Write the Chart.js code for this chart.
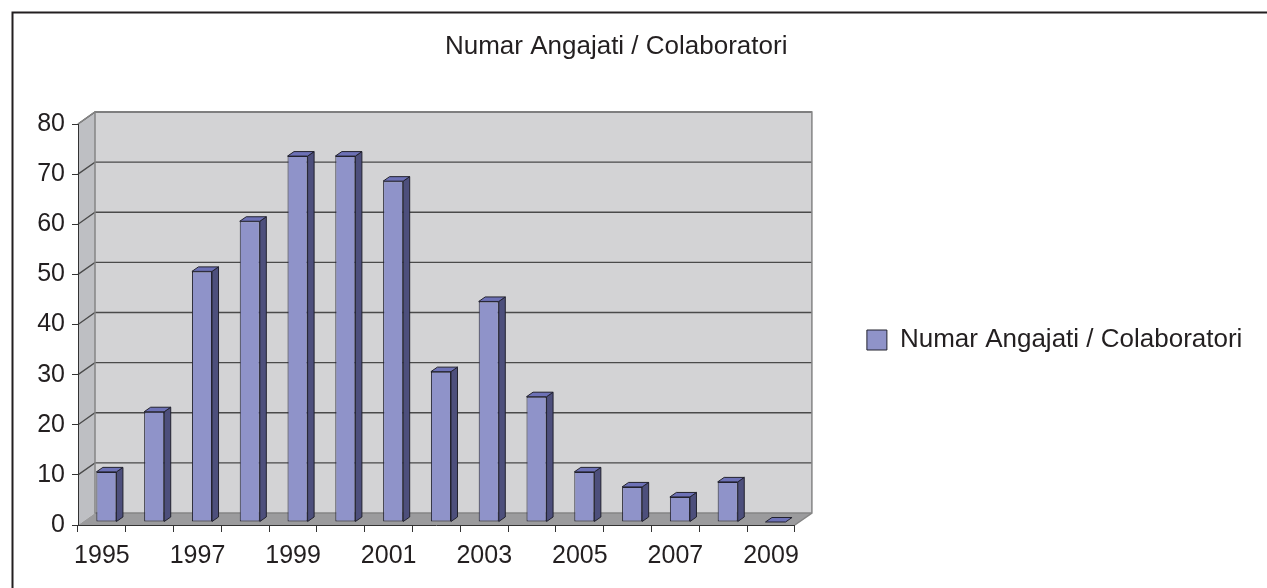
<!DOCTYPE html>
<html>
<head>
<meta charset="utf-8">
<title>Numar Angajati / Colaboratori</title>
<script src="https://cdn.jsdelivr.net/npm/chart.js@4.4.1/dist/chart.umd.min.js"></script>
<style>
    html, body { margin: 0; padding: 0; background: #ffffff; }
    #wrap { position: relative; width: 1267px; height: 588px; }
</style>
</head>
<body>
<div id="wrap"><canvas id="angajatiChart"></canvas></div>
<script>
// ========================================
// DATE
// ========================================
const chartTitle = 'Numar Angajati / Colaboratori';
const seriesLabel = 'Numar Angajati / Colaboratori';
const years = ['1995', '1996', '1997', '1998', '1999', '2000', '2001', '2002',
               '2003', '2004', '2005', '2006', '2007', '2008', '2009'];
const angajati = [10, 22, 50, 60, 73, 73, 68, 30, 44, 25, 10, 7, 5, 8, 0];
const yTickValues = [0, 10, 20, 30, 40, 50, 60, 70, 80];

// ========================================
// STIL
// ========================================
const FONT = "'Liberation Sans', Arial, sans-serif";
const TEXT = '#231f20';

// adancimea peretilor (efect 3D ca in Excel)
const WALL_DX = 17, WALL_DY = -12;
// barele stau putin in spate fata de planul frontal
const BAR_SHIFT_X = 4.5, BAR_SHIFT_Y = -3;
// grosimea barelor
const BAR_DX = 6.5, BAR_DY = -4.5;

const colors = {
    front: '#8f93c9',
    side: '#4d4f7c',
    top: '#6d71b6',
    outline: '#22222e',
    backWall: '#d3d3d5',
    leftWall: '#bebfc3',
    floor: '#9b9b9d',
    wallEdge: '#858585',
    grid: '#4a4a4a',
    axis: '#333333'
};

Chart.defaults.font.family = FONT;
Chart.defaults.color = TEXT;

function fillPoly(ctx, pts, fill, stroke, lw) {
    ctx.beginPath();
    ctx.moveTo(pts[0][0], pts[0][1]);
    for (let i = 1; i < pts.length; i++) ctx.lineTo(pts[i][0], pts[i][1]);
    ctx.closePath();
    if (fill) { ctx.fillStyle = fill; ctx.fill(); }
    if (stroke) { ctx.strokeStyle = stroke; ctx.lineWidth = lw || 1; ctx.stroke(); }
}

// pereti, podea si liniile de grila pe peretele din spate
const walls3d = {
    id: 'walls3d',
    beforeDraw(chart) {
        const { ctx, chartArea: a } = chart;
        const yScale = chart.scales.y;
        ctx.save();

        // rama exterioara (doar sus si stanga sunt vizibile)
        ctx.strokeStyle = TEXT;
        ctx.lineWidth = 2;
        ctx.beginPath();
        ctx.moveTo(12.5, chart.height);
        ctx.lineTo(12.5, 12.5);
        ctx.lineTo(chart.width, 12.5);
        ctx.stroke();

        const L = a.left, R = a.right, T = a.top, B = a.bottom;
        const bl = L + WALL_DX, br = R + WALL_DX, bt = T + WALL_DY, bb = B + WALL_DY;

        // perete spate
        fillPoly(ctx, [[bl, bt], [br, bt], [br, bb], [bl, bb]], colors.backWall);
        // perete stanga
        fillPoly(ctx, [[L, T], [bl, bt], [bl, bb], [L, B]], colors.leftWall);
        // podea
        fillPoly(ctx, [[L, B], [bl, bb], [br, bb], [R, B]], colors.floor);

        // grila
        ctx.lineWidth = 1.3;
        ctx.strokeStyle = colors.grid;
        yScale.ticks.forEach(t => {
            if (t.value === 0) return;
            const y = yScale.getPixelForValue(t.value);
            ctx.beginPath();
            ctx.moveTo(L, y);
            ctx.lineTo(bl, y + WALL_DY);
            ctx.lineTo(br, y + WALL_DY);
            ctx.stroke();
        });

        // muchii
        ctx.strokeStyle = colors.wallEdge;
        ctx.lineWidth = 1.5;
        ctx.beginPath();
        ctx.moveTo(L, T);
        ctx.lineTo(bl, bt);
        ctx.lineTo(br, bt);
        ctx.lineTo(br, bb);
        ctx.lineTo(R, B);
        ctx.moveTo(bl, bt);
        ctx.lineTo(bl, bb);
        ctx.lineTo(br, bb);
        ctx.stroke();

        ctx.restore();
    },
    beforeDatasetsDraw(chart) {
        chart.ctx.save();
        chart.ctx.translate(BAR_SHIFT_X, BAR_SHIFT_Y);
    },
    afterDatasetsDraw(chart) {
        const ctx = chart.ctx;
        ctx.restore();
        ctx.save();
        ctx.lineJoin = 'round';
        const meta = chart.getDatasetMeta(0);
        meta.data.forEach(bar => {
            const { x, y, base, width } = bar.getProps(['x', 'y', 'base', 'width'], true);
            const l = x - width / 2 + BAR_SHIFT_X;
            const r = x + width / 2 + BAR_SHIFT_X;
            const t = y + BAR_SHIFT_Y;
            const b = base + BAR_SHIFT_Y;
            // lateral
            if (b - t > 0.5) {
                fillPoly(ctx, [[r, t], [r + BAR_DX, t + BAR_DY], [r + BAR_DX, b + BAR_DY], [r, b]],
                    colors.side, colors.outline, 1);
            }
            // capac
            fillPoly(ctx, [[l, t], [r, t], [r + BAR_DX, t + BAR_DY], [l + BAR_DX, t + BAR_DY]],
                colors.top, colors.outline, 1);
        });
        ctx.restore();
    }
};

const ctx = document.getElementById('angajatiChart').getContext('2d');

const angajatiChart = new Chart(ctx, {
    type: 'bar',
    data: {
        labels: years,
        datasets: [{
            label: seriesLabel,
            data: angajati,
            backgroundColor: colors.front,
            borderColor: colors.outline,
            borderWidth: 1,
            borderSkipped: false,
            barPercentage: 0.42,
            categoryPercentage: 1
        }]
    },
    options: {
        responsive: true,
        maintainAspectRatio: false,
        animation: false,
        layout: {
            // stanga negativ ca titlul sa fie centrat ca in original
            padding: { left: -20, right: 14.6, top: 0, bottom: 13 }
        },
        plugins: {
            title: {
                display: true,
                text: chartTitle,
                color: TEXT,
                font: { size: 26, weight: 'normal' },
                padding: { top: 31, bottom: 61.8 }
            },
            legend: {
                position: 'right',
                align: 'center',
                maxWidth: 460,
                // titlu gol doar ca sa coboare legenda
                title: {
                    display: true,
                    text: ' ',
                    font: { size: 10, lineHeight: 1 },
                    padding: { top: 95, bottom: 0 }
                },
                labels: {
                    boxWidth: 20,
                    boxHeight: 20,
                    padding: 72,
                    color: TEXT,
                    font: { size: 26 }
                }
            },
            tooltip: { enabled: false }
        },
        scales: {
            x: {
                grid: {
                    drawOnChartArea: false,
                    drawTicks: true,
                    tickLength: 7,
                    color: colors.axis,
                    offset: true
                },
                border: { display: true, color: colors.axis, width: 1 },
                ticks: {
                    autoSkip: false,
                    maxRotation: 0,
                    padding: 9,
                    color: TEXT,
                    font: { size: 25 },
                    callback: function(value, index) {
                        return index % 2 === 0 ? years[index] : '';
                    }
                },
                afterFit: function(scale) { scale.height = 50; }
            },
            y: {
                min: yTickValues[0],
                max: yTickValues[yTickValues.length - 1],
                grid: {
                    drawOnChartArea: false,
                    drawTicks: true,
                    tickLength: 6,
                    color: colors.axis
                },
                border: { display: true, color: colors.axis, width: 1 },
                ticks: {
                    padding: 7,
                    color: TEXT,
                    font: { size: 25 }
                },
                afterBuildTicks: function(scale) {
                    scale.ticks = yTickValues.map(v => ({ value: v }));
                },
                afterFit: function(scale) { scale.width = 98; }
            }
        }
    },
    plugins: [walls3d]
});
</script>
</body>
</html>
